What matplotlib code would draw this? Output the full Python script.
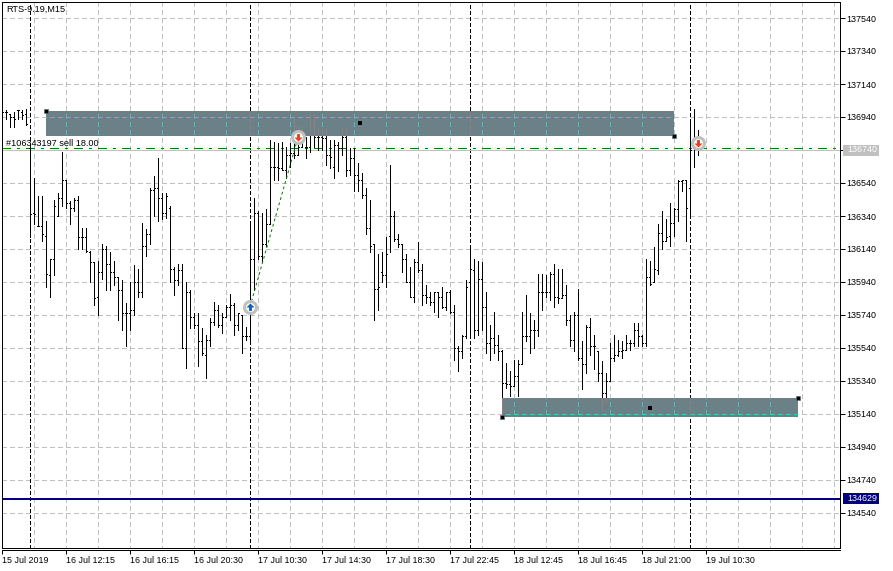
import numpy as np
import matplotlib
matplotlib.use('Agg')
import matplotlib.pyplot as plt
from matplotlib.patches import Rectangle
from matplotlib.transforms import IdentityTransform

high = [136980,136980,136960,136970,136980,136980,136990,136770,136570,136460,
        136460,136310,136080,136440,136480,136730,136560,136430,136450,136460,
        136270,136270,136130,136060,136070,136170,136160,136120,136070,135970,
        135950,135810,135940,136040,136020,136300,136260,136510,136580,136690,
        136480,136480,136400,136030,136050,136050,135940,135890,135750,135750,
        135660,135620,135720,135820,135800,135750,135800,135870,135810,135750,
        135740,135670,136300,136450,136370,136360,136380,136800,136790,136780,
        136790,136760,136780,136930,136880,136880,136820,136960,136960,136870,
        136870,136870,136800,136800,136790,136870,136870,136750,136750,136660,
        136600,136510,136440,136170,136110,136120,136210,136650,136370,136230,
        136170,136110,136030,136080,136180,136050,135920,135880,135880,135880,
        135910,135880,135890,135800,135550,135620,135950,136160,136080,136070,
        136060,135880,135680,135760,135620,135530,135450,135400,135470,135470,
        135760,135860,135750,135710,135990,135990,135980,136000,136050,136020,
        136020,135920,135740,135760,135900,135580,135680,135720,135620,135520,
        135460,135390,135570,135620,135590,135580,135620,135590,135690,135690,
        135620,136080,136070,136150,136290,136370,136320,136420,136390,136560,
        136560,136560,136910,136990,136860]
low = [136930,136930,136880,136880,136930,136930,136890,136210,136290,136280,
       136190,135910,135850,135980,136340,136400,136390,136290,136370,136140,
       136140,136120,135940,135800,135740,135960,135890,135890,135920,135710,
       135650,135550,135650,135740,135850,135850,136100,136170,136340,136310,
       136320,136330,135940,135860,135920,135540,135420,135660,135660,135430,
       135500,135360,135550,135680,135670,135630,135730,135710,135620,135650,
       135510,135590,135590,135890,136080,136060,136160,136290,136560,136560,
       136620,136570,136640,136690,136710,136760,136690,136730,136760,136740,
       136740,136650,136630,136570,136610,136710,136580,136590,136490,136490,
       136450,136230,136120,135710,135770,135940,135910,136120,136190,136150,
       136000,135940,135850,135820,136000,135800,135810,135800,135760,135730,
       135780,135770,135750,135470,135400,135480,135600,135620,135600,135620,
       135650,135510,135470,135510,135470,135140,135300,135250,135310,135250,
       135440,135580,135510,135540,135610,135770,135850,135830,135790,135810,
       135840,135680,135550,135520,135470,135290,135390,135500,135410,135340,
       135170,135210,135340,135460,135490,135480,135530,135530,135550,135550,
       135550,135550,135920,135940,135990,136140,136190,136160,136220,136310,
       136490,136190,136350,136640,136710]
open_ = [136980,136970,136960,136940,136980,136970,136960,136750,136360,136280,
         136280,136220,135980,136080,136340,136450,136560,136420,136390,136440,
         136210,136210,136120,136060,135850,136000,136140,136050,136000,135970,
         135890,135750,135750,135770,135940,135880,136160,136230,136500,136510,
         136450,136360,136390,136020,135950,136010,135540,135880,135730,135680,
         135580,135500,135590,135700,135770,135680,135730,135790,135800,135680,
         135740,135610,135610,136080,136360,136100,136170,136290,136640,136640,
         136630,136620,136710,136720,136710,136760,136760,136760,136920,136820,
         136820,136810,136710,136640,136770,136750,136820,136620,136690,136590,
         136560,136470,136270,136170,135900,136000,135980,136220,136340,136200,
         136170,136080,135940,135850,136060,136010,135860,135850,135820,135880,
         135850,135790,135880,135760,135540,135520,135610,135940,136010,135650,
         135960,135790,135570,135600,135560,135520,135330,135320,135310,135370,
         135440,135610,135610,135650,135650,135880,135880,135880,135990,135850,
         135840,135860,135710,135590,135740,135480,135440,135670,135550,135520,
         135390,135270,135340,135480,135500,135520,135530,135570,135570,135650,
         135610,135570,135970,135940,136010,136240,136190,136220,136300,136380,
         136550,136560,136510,136750,136750]
close = [136970,136970,136940,136930,136980,136950,136900,136350,136350,136280,
         136230,135990,136080,136400,136450,136560,136420,136390,136440,136210,
         136210,136130,136060,135840,136000,136140,136050,136000,135970,135890,
         135750,135750,135770,135940,135880,136160,136230,136500,136510,136450,
         136360,136460,136020,135950,136010,135540,135880,135730,135680,135580,
         135510,135590,135700,135770,135680,135730,135790,135800,135680,135750,
         135610,135610,136080,136360,136100,136170,136290,136640,136640,136630,
         136620,136710,136720,136710,136760,136820,136760,136920,136820,136820,
         136810,136710,136700,136770,136750,136820,136620,136690,136590,136560,
         136470,136270,136160,135900,135910,135980,136110,136340,136200,136170,
         136080,135940,135850,136060,136010,135860,135850,135820,135880,135850,
         135790,135880,135760,135540,135520,135610,135910,136020,135650,135960,
         135790,135570,135600,135560,135520,135330,135320,135310,135370,135440,
         135610,135610,135650,135650,135880,135880,135880,135990,135850,135840,
         135860,135710,135590,135740,135480,135440,135670,135550,135550,135390,
         135270,135340,135480,135500,135520,135530,135570,135570,135650,135610,
         135570,135970,135930,136020,136240,136190,136210,136300,136380,136550,
         136560,136390,136740,136750,136740]

x_ticks = [0, 16, 32, 48, 64, 80, 96, 112, 128, 144, 160, 176]
x_labels = ['15 Jul 2019', '16 Jul 12:15', '16 Jul 16:15', '16 Jul 20:30',
            '17 Jul 10:30', '17 Jul 14:30', '17 Jul 18:30', '17 Jul 22:45',
            '18 Jul 12:45', '18 Jul 16:45', '18 Jul 21:00', '19 Jul 10:30']
y_ticks = [137540, 137340, 137140, 136940, 136740, 136540, 136340, 136140,
           135940, 135740, 135540, 135340, 135140, 134940, 134740, 134540]
separators = [7, 62, 117, 172]
grid_bars = list(range(8, 209, 8))

ask_price = 136740
sell_price = 136752
low_price = 134629
zone_left = [11, 125]
zone_right = [168, 199]
zone_bottom = [136826, 135119]
zone_top = [136978, 135238]
anchor_bars = [11, 168, 125, 199]
anchor_prices = [136978, 136826, 135119, 135238]
center_bars = [89.5, 162]
center_prices = [136902, 135178]
deal_bars = [62, 74, 174]
deal_prices = [135790, 136816, 136784]
deal_up = [True, False, False]

GRID = (0, (2.9, 2.2))
SEP = (0, (2.2, 1.5))
px = 0.72

plt.rcParams['lines.scale_dashes'] = False
plt.rcParams['font.family'] = 'Liberation Sans'
plt.rcParams['font.size'] = 6.4

W, H = 893, 571
fig = plt.figure(figsize=(W / 100, H / 100), dpi=100)
ax = fig.add_axes([2 / W, (H - 548) / H, 838 / W, 546 / H])
ax.set_xlim(0, 209.5)
# 33 px for every 200 points, 136940 sits on row 117
ax.set_ylim(136940 - 431 / 0.165, 136940 + 115 / 0.165)
y0, y1 = ax.get_ylim()

bars = np.arange(len(high))


def draw_bars(color, z, clip=None):
    items = [ax.vlines(bars, low, high, color=color, lw=px, zorder=z),
             ax.hlines(open_, bars - 0.3, bars, color=color, lw=px, zorder=z),
             ax.hlines(close, bars, bars + 0.3, color=color, lw=px, zorder=z)]
    for item in items:
        item.set_antialiased(False)
        if clip is not None:
            item.set_clip_path(clip)


def draw_grid(color, z, clip=None):
    items = [ax.vlines(grid_bars, y1, y0, color=color, lw=px, ls=GRID, zorder=z),
             ax.hlines(y_ticks, 0, 209.5, color=color, lw=px, ls=GRID, zorder=z)]
    for item in items:
        item.set_antialiased(False)
        if clip is not None:
            item.set_clip_path(clip)


draw_grid('#c0c0c0', 1)
for b in separators:
    ax.axvline(b, color='black', lw=px, ls=SEP, zorder=1.5, antialiased=False)
ax.axhline(ask_price, color='#c0c0c0', lw=px, zorder=1.6, antialiased=False)
ax.axhline(sell_price, color='#008000', lw=px, ls=(0, (5.8, 4.7, 2, 4.7)), zorder=1.7,
           antialiased=False)
# nudged a few points so the two-pixel line lands on the same rows as the picture
ax.axhline(low_price - 4, color='#000080', lw=1.44, zorder=1.8, antialiased=False)
draw_bars('black', 3)

for x0, x1, p0, p1 in zip(zone_left, zone_right, zone_bottom, zone_top):
    rect = Rectangle((x0, p0), x1 - x0, p1 - p0, facecolor='#6b8087', edgecolor='none', zorder=2)
    ax.add_patch(rect)
    draw_grid('#40c4bc', 3.2, clip=rect)
    sep = ax.vlines(separators, y0, y1, color='#90807a', lw=px, ls=SEP, zorder=3.4)
    sep.set_antialiased(False)
    sep.set_clip_path(rect)
    draw_bars('#90807a', 3.5, clip=rect)

ax.plot(anchor_bars, anchor_prices, ls='none', marker='s', ms=3.4, mfc='black', mec='#5a7480',
        mew=0.5, zorder=6, clip_on=False)
ax.plot(center_bars, center_prices, ls='none', marker='s', ms=2.6, mfc='black', mec='black',
        mew=0, zorder=6)

ax.plot(deal_bars[:2], deal_prices[:2], color='#008000', lw=px, ls=(0, (2, 2)), zorder=4)

up_arrow = [(-0.25, -0.6), (0.25, -0.6), (0.25, 0), (0.7, 0), (0, 0.7), (-0.7, 0), (-0.25, 0)]
down_arrow = [(a, -b) for a, b in up_arrow]
for b, p, up in zip(deal_bars, deal_prices, deal_up):
    c = '#0f62b4' if up else '#e8401e'
    ax.plot([b], [p], marker='o', ms=8.6, mfc='white', mec='#c0c0c0', mew=2.2, zorder=5)
    ax.plot([b], [p], marker=up_arrow if up else down_arrow, ms=5.8, mfc=c, mec=c, mew=0, zorder=5.5)

ax.text(1, sell_price, '#106343197 sell 18.00', fontsize=6.6, color='black', va='bottom',
        ha='left', zorder=6)
ax.text(0.0045, 0.994, 'RTS-9.19,M15', fontsize=6.6, transform=ax.transAxes, va='top', ha='left',
        zorder=6)

for name in ax.spines:
    ax.spines[name].set_linewidth(px)
# the time scale has a second line two rows under the frame, ticks hang from it
ax.spines['bottom'].set_position(('outward', 1.44))
ax.axhline(y0, color='black', lw=px, zorder=7, clip_on=False, antialiased=False)
ax.set_xticks(x_ticks, x_labels)
ax.set_yticks(y_ticks, [str(v) for v in y_ticks])
ax.yaxis.tick_right()
ax.tick_params(axis='x', length=3, width=px, pad=1.2)
ax.tick_params(axis='y', length=3.6, width=px, pad=1)
for label in ax.get_xticklabels():
    label.set_horizontalalignment('left')

# coloured price boxes on the right scale
for price, fc in [(ask_price, '#c0c0c0'), (low_price, '#000080')]:
    yp = ax.transData.transform((0, price))[1]
    fig.add_artist(Rectangle((843, yp - 5.5), 36, 11, transform=IdentityTransform(), fc=fc, ec='none',
                             zorder=2))
    fig.text(847, yp, str(price), transform=IdentityTransform(), color='white', va='center',
             ha='left', zorder=3)

fig.savefig('out.png', dpi=100)
